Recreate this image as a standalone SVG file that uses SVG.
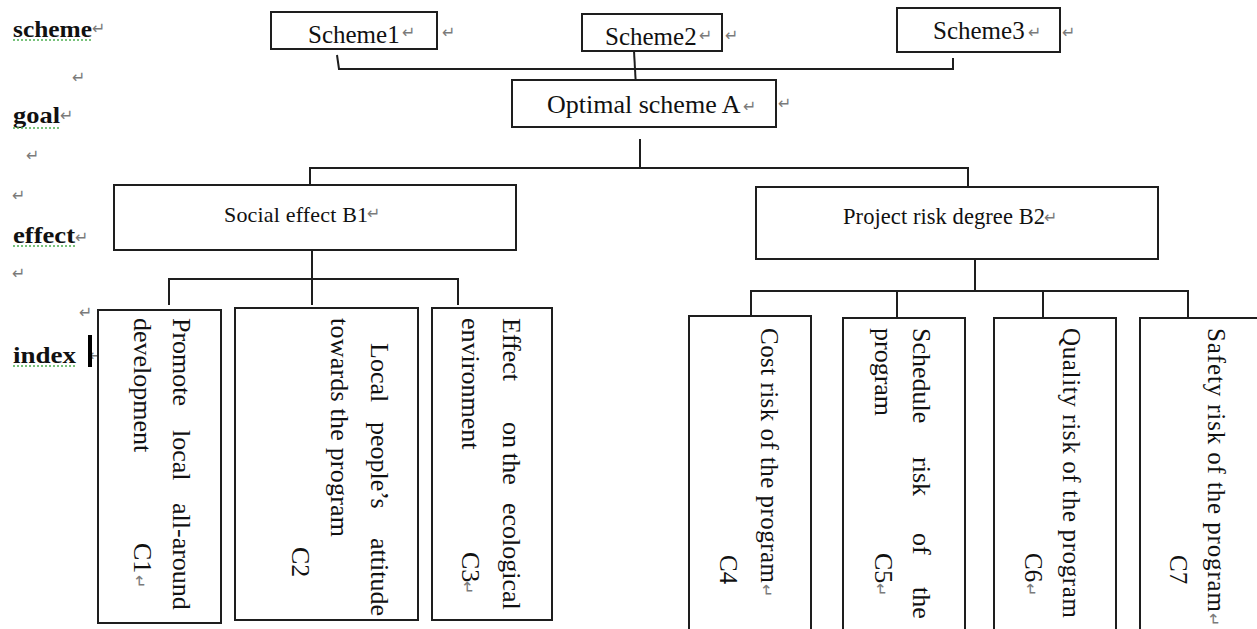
<svg xmlns="http://www.w3.org/2000/svg" width="1257" height="629" viewBox="0 0 1257 629">
<style>
  .box { fill: #ffffff; stroke: #1e1e1e; stroke-width: 2; }
  .ln { fill: none; stroke: #1e1e1e; stroke-width: 2; }
  .t { font-family: "Liberation Serif", "Times New Roman", serif; fill: #111111; }
  .lbl { font-family: "Liberation Serif", "Times New Roman", serif; font-weight: bold; font-size: 24px; fill: #111111; }
  .pm { font-family: "DejaVu Sans", sans-serif; font-size: 16px; fill: #7a7a7a; font-weight: normal; }
  .sq { fill: none; stroke: #4caf50; stroke-width: 1.3; stroke-dasharray: 2 2; }
</style>
<rect x="0" y="0" width="1257" height="629" fill="#ffffff"/>

<g id="level-labels">
  <text class="lbl" x="13" y="37" textLength="79" lengthAdjust="spacingAndGlyphs">scheme</text>
  <text class="pm" x="92" y="34">↵</text>
  <text class="pm" x="72" y="83">↵</text>
  <text class="lbl" x="13" y="123" textLength="47" lengthAdjust="spacingAndGlyphs">goal</text>
  <text class="pm" x="60" y="121">↵</text>
  <text class="pm" x="26" y="161">↵</text>
  <text class="pm" x="12" y="201">↵</text>
  <text class="lbl" x="13" y="243" textLength="62" lengthAdjust="spacingAndGlyphs">effect</text>
  <text class="pm" x="75" y="243">↵</text>
  <text class="pm" x="12" y="279">↵</text>
  <text class="pm" x="79" y="318">↵</text>
  <text class="lbl" x="13" y="363" textLength="63" lengthAdjust="spacingAndGlyphs">index</text>
  <text class="pm" x="89" y="361">↵</text>
  <rect x="88" y="335" width="4" height="32" fill="#000000"/>
  <line class="sq" x1="13" y1="40" x2="92" y2="40"/>
  <line class="sq" x1="13" y1="128" x2="60" y2="128"/>
  <line class="sq" x1="13" y1="246" x2="75" y2="246"/>
  <line class="sq" x1="13" y1="366" x2="76" y2="366"/>
</g>

<g id="connectors">
  <polyline class="ln" points="337,55 339,69 953,69 953,58"/>
  <line class="ln" x1="634" y1="51" x2="636" y2="87"/>
  <line class="ln" x1="640" y1="139" x2="640" y2="168"/>
  <polyline class="ln" points="310,185 310,168 968,168 968,187"/>
  <line class="ln" x1="312" y1="246" x2="312" y2="305"/>
  <polyline class="ln" points="169,305 169,279 458,279 458,305"/>
  <line class="ln" x1="975" y1="257" x2="975" y2="291"/>
  <polyline class="ln" points="751,316 751,291 1188,291 1188,318"/>
  <line class="ln" x1="897" y1="291" x2="897" y2="318"/>
  <line class="ln" x1="1043" y1="291" x2="1043" y2="318"/>
</g>

<g id="scheme1">
  <rect class="box" x="271" y="12" width="166" height="37"/>
  <text class="t" x="308" y="43" font-size="25">Scheme1</text>
  <text class="pm" x="402" y="38">↵</text>
  <text class="pm" x="442" y="38">↵</text>
</g>
<g id="scheme2">
  <rect class="box" x="582" y="14" width="140" height="37"/>
  <text class="t" x="605" y="45" font-size="25">Scheme2</text>
  <text class="pm" x="699" y="41">↵</text>
  <text class="pm" x="725" y="41">↵</text>
</g>
<g id="scheme3">
  <rect class="box" x="897" y="8" width="163" height="44"/>
  <text class="t" x="933" y="39" font-size="25">Scheme3</text>
  <text class="pm" x="1028" y="38">↵</text>
  <text class="pm" x="1062" y="38">↵</text>
</g>
<g id="goal-A">
  <rect class="box" x="512" y="80" width="264" height="47"/>
  <text class="t" x="547" y="113" font-size="26">Optimal scheme A</text>
  <text class="pm" x="743" y="112">↵</text>
  <text class="pm" x="778" y="109">↵</text>
</g>
<g id="effect-B1">
  <rect class="box" x="114" y="185" width="402" height="65"/>
  <text class="t" x="224" y="222" font-size="22" textLength="144" lengthAdjust="spacing">Social effect B1</text>
  <text class="pm" x="367" y="219">↵</text>
</g>
<g id="effect-B2">
  <rect class="box" x="756" y="187" width="402" height="72"/>
  <text class="t" x="843" y="224" font-size="22.5" textLength="202" lengthAdjust="spacing">Project risk degree B2</text>
  <text class="pm" x="1044" y="223">↵</text>
</g>

<g id="index-C1">
  <rect class="box" x="98" y="310" width="123" height="313"/>
  <text class="t" font-size="26" transform="translate(173 0) rotate(90)"><tspan x="318">Promote</tspan><tspan x="430">local</tspan><tspan x="503">all-around</tspan></text>
  <text class="t" font-size="26" transform="translate(134 0) rotate(90)"><tspan x="318">development</tspan><tspan x="543">C1</tspan><tspan class="pm" x="575">↵</tspan></text>
</g>
<g id="index-C2">
  <rect class="box" x="235" y="308" width="183" height="312"/>
  <text class="t" font-size="26" transform="translate(371 0) rotate(90)"><tspan x="343">Local</tspan><tspan x="422">people’s</tspan><tspan x="538">attitude</tspan></text>
  <text class="t" font-size="26" transform="translate(331 0) rotate(90)" x="318" textLength="219" lengthAdjust="spacing">towards the program</text>
  <text class="t" font-size="26" transform="translate(292 0) rotate(90)" x="547">C2</text>
</g>
<g id="index-C3">
  <rect class="box" x="432" y="308" width="120" height="312"/>
  <text class="t" font-size="26" transform="translate(503 0) rotate(90)"><tspan x="318">Effect</tspan><tspan x="422">on</tspan><tspan x="453">the</tspan><tspan x="503">ecological</tspan></text>
  <text class="t" font-size="26" transform="translate(462 0) rotate(90)"><tspan x="318">environment</tspan><tspan x="552">C3</tspan><tspan class="pm" x="581">↵</tspan></text>
</g>
<g id="index-C4">
  <rect class="box" x="689" y="316" width="122" height="320"/>
  <text class="t" font-size="25" transform="translate(761 0) rotate(90)"><tspan x="328" textLength="255" lengthAdjust="spacing">Cost risk of the program</tspan><tspan class="pm" x="584">↵</tspan></text>
  <text class="t" font-size="25" transform="translate(720 0) rotate(90)" x="555">C4</text>
</g>
<g id="index-C5">
  <rect class="box" x="843" y="318" width="122" height="318"/>
  <text class="t" font-size="26" transform="translate(913 0) rotate(90)"><tspan x="328">Schedule</tspan><tspan x="457">risk</tspan><tspan x="533">of</tspan><tspan x="587">the</tspan></text>
  <text class="t" font-size="26" transform="translate(875 0) rotate(90)"><tspan x="328">program</tspan><tspan x="553">C5</tspan><tspan class="pm" x="583">↵</tspan></text>
</g>
<g id="index-C6">
  <rect class="box" x="994" y="318" width="122" height="318"/>
  <text class="t" font-size="25" transform="translate(1063 0) rotate(90)" x="328" textLength="290" lengthAdjust="spacing">Quality risk of the program</text>
  <text class="t" font-size="25" transform="translate(1025 0) rotate(90)"><tspan x="553">C6</tspan><tspan class="pm" x="583">↵</tspan></text>
</g>
<g id="index-C7">
  <rect class="box" x="1140" y="318" width="130" height="318"/>
  <text class="t" font-size="25" transform="translate(1208 0) rotate(90)"><tspan x="328" textLength="284" lengthAdjust="spacing">Safety risk of the program</tspan><tspan class="pm" x="613">↵</tspan></text>
  <text class="t" font-size="25" transform="translate(1170 0) rotate(90)" x="555">C7</text>
</g>
</svg>
